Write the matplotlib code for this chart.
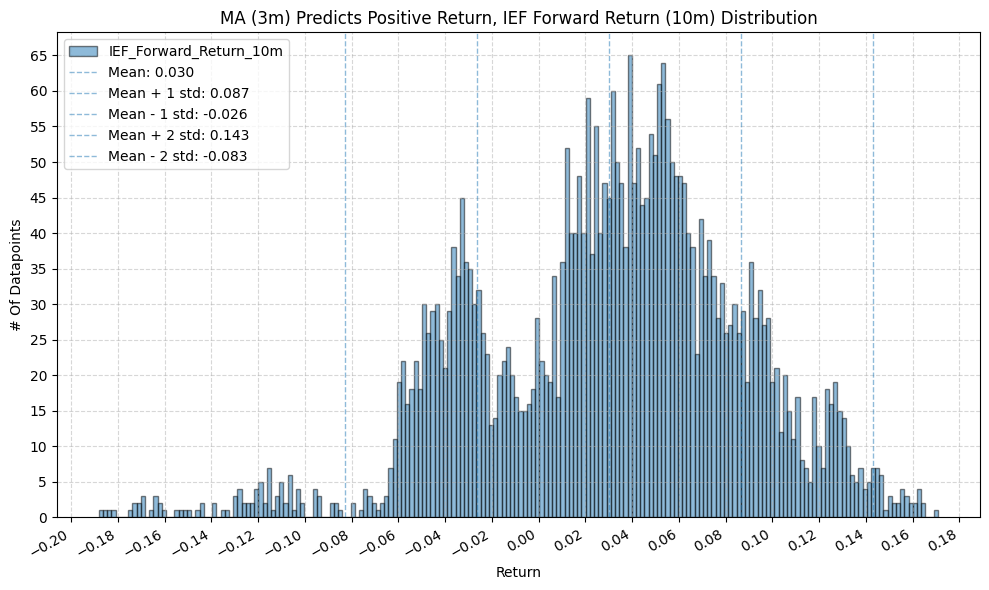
import numpy as np
import matplotlib
matplotlib.use("Agg")
import matplotlib.pyplot as plt
from matplotlib.ticker import MultipleLocator

# Histogram data (200 bins)
bin_start = -0.1881
bin_end = 0.1709
counts = [
    1, 1, 1, 1, 0, 0, 0, 1, 2, 2,
    3, 0, 1, 3, 2, 1, 0, 0, 1, 1,
    1, 1, 0, 1, 2, 0, 0, 2, 0, 1,
    1, 0, 3, 4, 2, 2, 2, 4, 5, 2,
    7, 1, 3, 5, 2, 6, 1, 4, 2, 0,
    0, 4, 3, 0, 0, 2, 2, 1, 0, 0,
    2, 0, 1, 4, 3, 2, 1, 2, 3, 7,
    11, 19, 22, 16, 18, 22, 18, 30, 26, 29,
    30, 25, 21, 29, 38, 34, 45, 36, 35, 30,
    32, 26, 23, 13, 14, 20, 22, 24, 20, 17,
    15, 15, 16, 18, 28, 22, 20, 19, 34, 17,
    36, 52, 40, 40, 48, 40, 59, 37, 55, 40,
    47, 45, 60, 50, 47, 38, 65, 47, 52, 44,
    45, 54, 51, 61, 64, 56, 50, 48, 48, 47,
    40, 38, 23, 42, 34, 39, 34, 28, 33, 26,
    27, 30, 26, 29, 19, 36, 28, 32, 27, 28,
    19, 21, 12, 20, 15, 11, 17, 8, 7, 5,
    17, 10, 7, 18, 16, 19, 15, 14, 10, 6,
    5, 7, 4, 5, 7, 7, 6, 1, 3, 2,
    2, 4, 3, 2, 2, 4, 2, 0, 0, 1,
]
mean_val = 0.0301
std_val = 0.0565

title = "MA (3m) Predicts Positive Return, IEF Forward Return (10m) Distribution"
series_label = "IEF_Forward_Return_10m"

edges = np.linspace(bin_start, bin_end, len(counts) + 1)
centers = (edges[:-1] + edges[1:]) / 2

fig, ax = plt.subplots(figsize=(10, 6), dpi=100)
ax.hist(centers, bins=edges, weights=counts, alpha=0.5, edgecolor="black",
        label=series_label)

lines = [
    (mean_val, f"Mean: {mean_val:.3f}"),
    (mean_val + std_val, f"Mean + 1 std: {mean_val + std_val:.3f}"),
    (mean_val - std_val, f"Mean - 1 std: {mean_val - std_val:.3f}"),
    (mean_val + 2 * std_val, f"Mean + 2 std: {mean_val + 2 * std_val:.3f}"),
    (mean_val - 2 * std_val, f"Mean - 2 std: {mean_val - 2 * std_val:.3f}"),
]
for xv, lab in lines:
    ax.axvline(xv, color="tab:blue", linestyle="--", linewidth=1, alpha=0.5, label=lab)

ax.xaxis.set_major_locator(MultipleLocator(0.02))
ax.yaxis.set_major_locator(MultipleLocator(5))
ax.grid(True, linestyle="--", alpha=0.5)
ax.set_title(title)
ax.set_xlabel("Return")
ax.set_ylabel("# Of Datapoints")
ax.legend(loc="upper left")
fig.autofmt_xdate()
fig.tight_layout()
fig.savefig("out.png", dpi=100, bbox_inches="tight")
